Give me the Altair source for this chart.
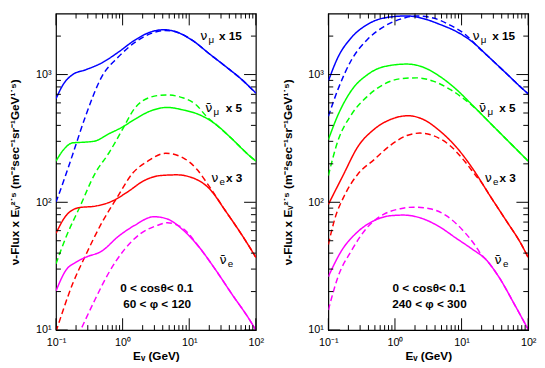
import altair as alt
import pandas as pd

# ---------------- curve data: (E_nu [GeV], flux x E^2.5, scaled) ----------------
# left panel: 0 < cos(theta) < 0.1, 60 < phi < 120
P1_NUMU_SOLID = [(0.1, 647), (0.129, 840), (0.178, 1000), (0.278, 1089), (0.49, 1236), (0.86, 1496),
                 (1.51, 1854), (2.63, 2153), (4.14, 2244), (6.46, 2153), (11.5, 1832), (20, 1455),
                 (35.5, 1153), (61.7, 912), (100, 716)]
P1_NUMU_DASHED = [(0.1, 100), (0.139, 162), (0.178, 237), (0.278, 473), (0.49, 968), (0.86, 1371),
                  (1.51, 1778), (2.63, 2089), (4.37, 2213), (6.46, 2153), (11.5, 1832), (20, 1455),
                  (35.5, 1153), (61.7, 912), (100, 716)]
P1_NUMUBAR_SOLID = [(0.1, 210), (0.129, 257), (0.178, 292), (0.278, 296), (0.389, 302), (0.617, 343),
                    (0.966, 385), (1.51, 445), (2.63, 519), (4.68, 553), (8.13, 528), (14.3, 484),
                    (25.1, 407), (43.7, 314), (77.6, 235), (100, 210)]
P1_NUMUBAR_DASHED = [(0.1, 33), (0.143, 54.2), (0.223, 89.8), (0.39, 170), (0.619, 242), (0.97, 363),
                     (1.52, 545), (2.67, 667), (4.44, 693), (8.22, 655), (12.9, 575), (18.1, 471),
                     (25.1, 407), (43.7, 314), (77.6, 235), (100, 210)]
P1_NUE_SOLID = [(0.1, 57.1), (0.141, 78.5), (0.222, 90.8), (0.389, 93.3), (0.682, 101.6), (1.2, 121),
                (2.11, 148), (3.72, 162), (6.46, 164), (11.4, 155), (20, 128), (35.1, 85.5),
                (61.7, 55.5), (100, 37.1)]
P1_NUE_DASHED = [(0.1, 9.7), (0.179, 23.2), (0.272, 37.5), (0.494, 70), (0.818, 108), (1.43, 170),
                 (2.39, 210), (4.43, 242), (8.22, 222), (12.9, 182), (20.2, 132), (35.1, 85.5),
                 (61.7, 55.5), (100, 37.1)]
P1_NUEBAR_SOLID = [(0.1, 20.2), (0.141, 29.4), (0.2, 34), (0.278, 37.1), (0.49, 41.6), (0.86, 54),
                   (1.51, 65.9), (2.95, 77.1), (4.68, 74.1), (8.13, 60.5), (14.3, 44.1), (25.1, 29.4),
                   (43.7, 19.1), (77.6, 12.4), (100, 10)]
P1_NUEBAR_DASHED = [(0.214, 9.0), (0.251, 10.8), (0.389, 17.5), (0.611, 27.7), (1.07, 42.8), (1.88, 57.1),
                    (3.31, 65.9), (4.68, 69.2), (8.13, 62.2), (14.3, 44.1), (25.1, 29.4), (43.7, 19.1),
                    (77.6, 12.4), (100, 10)]

# right panel: 0 < cos(theta) < 0.1, 240 < phi < 300
P2_NUMU_SOLID = [(0.1, 889), (0.14, 1371), (0.221, 1941), (0.389, 2472), (0.685, 2773), (1.51, 2877),
                 (2.67, 2742), (4.7, 2472), (8.26, 2178), (14.6, 1799), (25.7, 1371), (45.2, 1040),
                 (79.4, 787), (100, 706)]
P2_NUMU_DASHED = [(0.1, 471), (0.14, 769), (0.221, 1294), (0.389, 1888), (0.685, 2377), (1.21, 2716),
                  (2.12, 2877), (3.74, 2773), (6.59, 2449), (11.6, 2042), (18.2, 1618), (25.7, 1371),
                  (45.2, 1040), (79.4, 787), (100, 706)]
P2_NUMUBAR_SOLID = [(0.1, 309), (0.14, 484), (0.221, 748), (0.389, 1000), (0.685, 1153), (1.51, 1208),
                    (2.67, 1140), (4.7, 968), (8.26, 769), (14.6, 575), (25.7, 427), (45.2, 318),
                    (79.4, 237), (100, 210)]
P2_NUMUBAR_DASHED = [(0.1, 162), (0.14, 305), (0.221, 484), (0.389, 678), (0.685, 840), (1.21, 927),
                     (2.12, 942), (3.74, 889), (6.59, 769), (11.6, 628), (18.2, 513), (25.7, 427),
                     (45.2, 318), (79.4, 237), (100, 210)]
P2_NUE_SOLID = [(0.1, 96.2), (0.166, 162), (0.277, 272), (0.488, 373), (0.859, 445), (1.58, 476),
                (2.67, 445), (4.68, 363), (8.26, 272), (15.5, 176), (25.7, 116), (45.2, 73.8),
                (79.4, 46.6), (100, 37)]
P2_NUE_DASHED = [(0.1, 46.7), (0.125, 74.1), (0.176, 114), (0.277, 166), (0.488, 216), (0.859, 280),
                 (1.51, 333), (2.38, 348), (3.74, 333), (6.59, 280), (11.6, 204), (16.3, 162),
                 (20.5, 140), (25.7, 116), (45.2, 73.8), (79.4, 46.6), (100, 37)]
P2_NUEBAR_SOLID = [(0.1, 26.2), (0.157, 41.6), (0.277, 58.9), (0.488, 71.9), (0.859, 78.5), (1.35, 79.4),
                   (2.67, 74.1), (4.7, 64.1), (8.26, 52.4), (14.6, 42.8), (22.9, 35.9), (36, 26.2),
                   (63.4, 15.6), (100, 10.1)]
P2_NUEBAR_DASHED = [(0.1, 14.3), (0.14, 26.2), (0.221, 41.6), (0.389, 64.1), (0.685, 80.7), (1.21, 89.1),
                    (1.9, 91.6), (3.34, 89.1), (5.89, 78.5), (10.4, 60.5), (16.3, 45.4), (20.4, 38.1),
                    (22.9, 35.9), (36, 26.2), (63.4, 15.6), (100, 10.1)]

FLAVORS = ["numu", "numubar", "nue", "nuebar"]
COLORS = ["#0000ff", "#00ff00", "#ff0000", "#ff00ff"]

# axis ticks / labels
X_MAJOR = [0.1, 1, 10, 100]
X_MINOR = [0.2, 0.3, 0.4, 0.5, 0.6, 0.7, 0.8, 0.9, 2, 3, 4, 5, 6, 7, 8, 9, 20, 30, 40, 50, 60, 70, 80, 90]
Y_MAJOR = [10, 100, 1000]
Y_MINOR = [20, 30, 40, 50, 60, 70, 80, 90, 200, 300, 400, 500, 600, 700, 800, 900, 2000]

# labels
NU_TEXT = ["ν", "ν\u0304", "ν", "ν\u0304"]
SUB_TEXT = ["μ", "μ", "e", "e"]
SUFFIX_TEXT = ["x 15", "x 5", "x 3"]
NU_F = [1860, 508, 144, 33]
L_NU_E = [14.6, 17.4, 21.4, 28.4]
R_NU_E = [14.6, 18.3, 22.3, 31.3]
L_SUF_E = [27.9, 35.2, 35.6]
R_SUF_E = [28.8, 36.8, 37.1]
NOTE_F = [19.9, 15.0]
L_NOTES = ["0 < cosθ< 0.1", "60 <  φ < 120"]
R_NOTES = ["0 < cosθ< 0.1", "240 < φ  < 300"]
NOTE_E = [3.25, 3.3]

CURVES = {
    "left": [("numu", "solid", P1_NUMU_SOLID), ("numu", "dashed", P1_NUMU_DASHED),
             ("numubar", "solid", P1_NUMUBAR_SOLID), ("numubar", "dashed", P1_NUMUBAR_DASHED),
             ("nue", "solid", P1_NUE_SOLID), ("nue", "dashed", P1_NUE_DASHED),
             ("nuebar", "solid", P1_NUEBAR_SOLID), ("nuebar", "dashed", P1_NUEBAR_DASHED)],
    "right": [("numu", "solid", P2_NUMU_SOLID), ("numu", "dashed", P2_NUMU_DASHED),
              ("numubar", "solid", P2_NUMUBAR_SOLID), ("numubar", "dashed", P2_NUMUBAR_DASHED),
              ("nue", "solid", P2_NUE_SOLID), ("nue", "dashed", P2_NUE_DASHED),
              ("nuebar", "solid", P2_NUEBAR_SOLID), ("nuebar", "dashed", P2_NUEBAR_DASHED)],
}

FONT = "Liberation Sans"
YTITLE = "ν-Flux x Eᵥ²˙⁵  (m⁻²sec⁻¹sr⁻¹GeV¹˙⁵)"
XTITLE = "Eᵥ  (GeV)"
W, H = 204, 323
MAJOR_LEN, MINOR_LEN = 12, 5

xs = alt.Scale(type="log", domain=[0.1, 100], nice=False)
ys = alt.Scale(type="log", domain=[10, 3000], nice=False)


def curve_frame(panel):
    rows = []
    for flav, style, pts in CURVES[panel]:
        for i, (e, f) in enumerate(pts):
            rows.append({"curve": flav + "_" + style, "flavor": flav, "style": style, "E": e, "F": f, "i": i})
    return pd.DataFrame(rows)


def x_ticks(vals, length):
    d = pd.DataFrame({"v": vals})
    x = alt.X("v:Q", scale=xs, axis=None)
    top = alt.Chart(d).mark_rule(color="black", strokeWidth=1).encode(
        x=x, y=alt.value(0), y2=alt.value(length))
    bottom = alt.Chart(d).mark_rule(color="black", strokeWidth=1).encode(
        x=x, y=alt.value(H), y2=alt.value(H - length))
    return [top, bottom]


def y_ticks(vals, length):
    d = pd.DataFrame({"v": vals})
    y = alt.Y("v:Q", scale=ys, axis=None)
    lft = alt.Chart(d).mark_rule(color="black", strokeWidth=1).encode(
        y=y, x=alt.value(0), x2=alt.value(length))
    rgt = alt.Chart(d).mark_rule(color="black", strokeWidth=1).encode(
        y=y, x=alt.value(W), x2=alt.value(W - length))
    return [lft, rgt]


def panel(name, nu_e, suf_e, notes):
    d = curve_frame(name)
    xaxis = alt.Axis(orient="bottom", values=X_MAJOR, ticks=False, domain=False, grid=False,
                     labelExpr="datum.value == 0.1 ? '10⁻¹' : datum.value == 1 ? '10⁰' : datum.value == 10 ? '10¹' : '10²'",
                     labelFont=FONT, labelFontSize=11, labelColor="black", labelPadding=7, labelFlush=False,
                     title=XTITLE, titleFont=FONT, titleFontSize=12, titleFontWeight="bold",
                     titleColor="black", titlePadding=3)
    yaxis = alt.Axis(orient="left", values=Y_MAJOR, ticks=False, domain=False, grid=False,
                     labelExpr="datum.value == 10 ? '10¹' : datum.value == 100 ? '10²' : '10³'",
                     labelFont=FONT, labelFontSize=11, labelColor="black", labelPadding=5, labelFlush=False,
                     title=YTITLE, titleFont=FONT, titleFontSize=12, titleFontWeight="bold",
                     titleColor="black", titlePadding=14)
    lines = alt.Chart(d).mark_line(strokeWidth=1.5, clip=True, interpolate="monotone").encode(
        x=alt.X("E:Q", scale=xs, axis=xaxis),
        y=alt.Y("F:Q", scale=ys, axis=yaxis),
        color=alt.Color("flavor:N", scale=alt.Scale(domain=FLAVORS, range=COLORS), legend=None),
        strokeDash=alt.StrokeDash("style:N", scale=alt.Scale(domain=["solid", "dashed"], range=[[1, 0], [6, 3.5]]),
                                  legend=None),
        detail="curve:N",
        order="i:Q",
    )
    nu_df = pd.DataFrame({"E": nu_e, "F": NU_F, "t": NU_TEXT, "s": SUB_TEXT})
    suf_df = pd.DataFrame({"E": suf_e, "F": NU_F[:3], "t": SUFFIX_TEXT})
    note_df = pd.DataFrame({"E": NOTE_E, "F": NOTE_F, "t": notes})
    enc = dict(x=alt.X("E:Q", scale=xs, axis=None), y=alt.Y("F:Q", scale=ys, axis=None))
    nu = alt.Chart(nu_df).mark_text(align="left", baseline="alphabetic", font="DejaVu Sans", fontSize=13,
                                    color="black").encode(text="t:N", **enc)
    sub = alt.Chart(nu_df).mark_text(align="left", baseline="alphabetic", font=FONT, fontSize=10, dx=8.5, dy=3,
                                     color="black").encode(text="s:N", **enc)
    suf = alt.Chart(suf_df).mark_text(align="left", baseline="alphabetic", font=FONT, fontSize=12,
                                      fontWeight="bold", color="black").encode(text="t:N", **enc)
    note = alt.Chart(note_df).mark_text(align="center", baseline="alphabetic", font=FONT, fontSize=12,
                                        fontWeight="bold", color="black").encode(text="t:N", **enc)
    layers = [lines] + x_ticks(X_MAJOR, MAJOR_LEN) + x_ticks(X_MINOR, MINOR_LEN) \
        + y_ticks(Y_MAJOR, MAJOR_LEN) + y_ticks(Y_MINOR, MINOR_LEN) + [nu, sub, suf, note]
    return alt.layer(*layers).resolve_axis(x="independent", y="independent").properties(width=W, height=H)


left = panel("left", L_NU_E, L_SUF_E, L_NOTES)
right = panel("right", R_NU_E, R_SUF_E, R_NOTES)

chart = alt.hconcat(left, right, spacing=16).properties(
    padding={"left": 0, "top": 0, "right": 0, "bottom": 0}, background="white"
).configure_view(stroke="black", strokeWidth=1.2)

chart.save("out.html", embed_options={"renderer": "svg", "actions": False})
